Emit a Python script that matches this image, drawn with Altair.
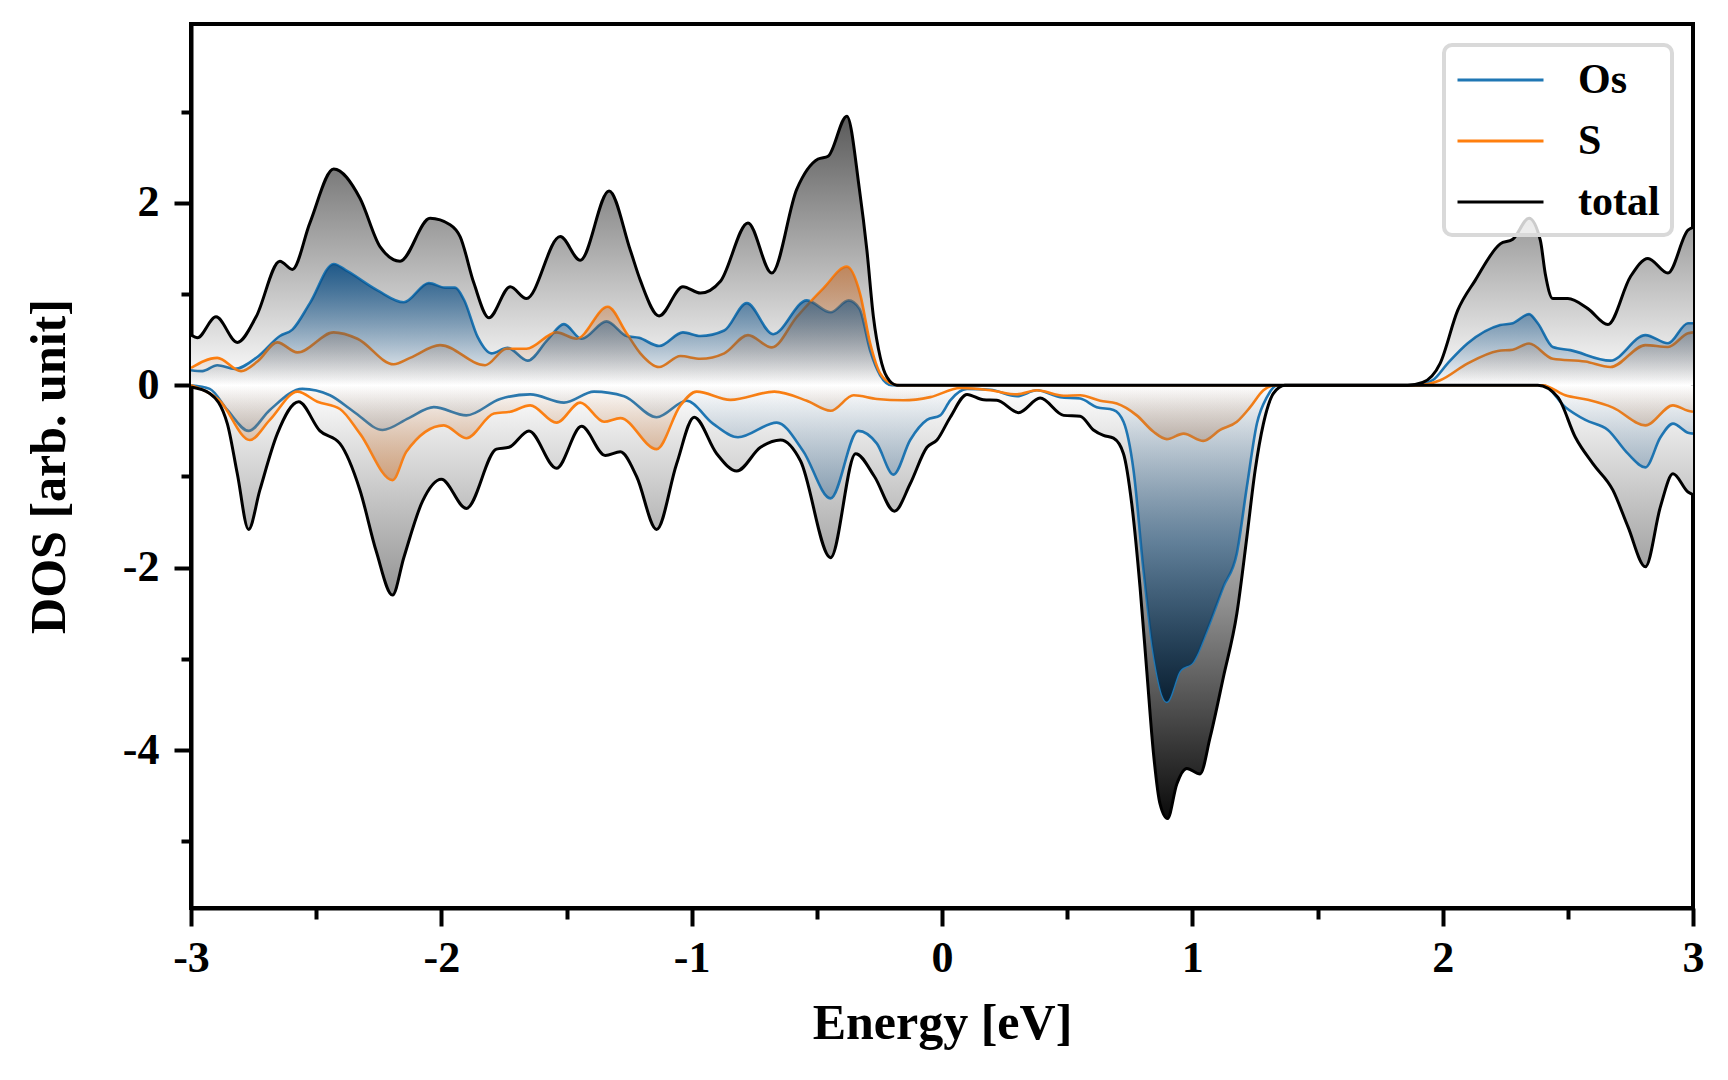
import altair as alt
import pandas as pd

# ---------------- data ----------------
total_up_E = [-3.00, -2.975, -2.90, -2.815, -2.74, -2.645, -2.595, -2.525, -2.43, -2.325, -2.245, -2.165,
              -2.045, -1.965, -1.925, -1.87, -1.81, -1.725, -1.66, -1.525, -1.445, -1.33, -1.245, -1.205,
              -1.13, -1.035, -0.965, -0.885, -0.775, -0.68, -0.58, -0.495, -0.455, -0.38, -0.33, -0.30,
              -0.274, -0.247, -0.22, -0.18, 1.86, 1.92, 1.99, 2.06, 2.13, 2.23, 2.28, 2.345, 2.39, 2.41,
              2.44, 2.50, 2.58, 2.66, 2.75, 2.82, 2.90, 2.98, 3.00]
total_up_D = [0.55, 0.52, 0.75, 0.47, 0.75, 1.36, 1.27, 1.78, 2.37, 2.05, 1.52, 1.36,
              1.83, 1.76, 1.63, 1.12, 0.74, 1.08, 0.95, 1.63, 1.37, 2.13, 1.48, 1.15,
              0.76, 1.08, 1.01, 1.14, 1.78, 1.23, 2.15, 2.48, 2.51, 2.95, 2.15, 1.48,
              0.75, 0.31, 0.09, 0.0, 0.0, 0.03, 0.24, 0.82, 1.15, 1.55, 1.60, 1.83, 1.59, 1.22,
              0.95, 0.95, 0.84, 0.665, 1.19, 1.39, 1.23, 1.70, 1.73]

os_up_E = [-3.00, -2.955, -2.895, -2.825, -2.735, -2.645, -2.595, -2.525, -2.43, -2.375, -2.255, -2.15,
           -2.05, -1.985, -1.945, -1.91, -1.855, -1.80, -1.735, -1.655, -1.575, -1.51, -1.44, -1.34,
           -1.26, -1.21, -1.13, -1.035, -0.965, -0.87, -0.78, -0.675, -0.54, -0.445, -0.373, -0.33,
           -0.287, -0.247, -0.20, 1.89, 1.96, 2.02, 2.10, 2.23, 2.28, 2.345, 2.38, 2.44, 2.51, 2.67,
           2.81, 2.90, 2.98, 3.00]
os_up_D = [0.165, 0.155, 0.22, 0.18, 0.31, 0.54, 0.61, 0.90, 1.33, 1.25, 1.04, 0.91,
           1.12, 1.07, 1.07, 0.94, 0.53, 0.35, 0.41, 0.27, 0.50, 0.67, 0.51, 0.70,
           0.54, 0.52, 0.43, 0.58, 0.54, 0.60, 0.90, 0.56, 0.93, 0.80, 0.93, 0.84,
           0.38, 0.11, 0.0, 0.0, 0.055, 0.24, 0.46, 0.66, 0.68, 0.78, 0.68, 0.42, 0.385, 0.27,
           0.55, 0.46, 0.68, 0.68]

s_up_E = [-3.00, -2.895, -2.80, -2.735, -2.655, -2.575, -2.43, -2.335, -2.19, -2.125, -2.005, -1.825,
          -1.74, -1.66, -1.54, -1.46, -1.335, -1.26, -1.205, -1.13, -1.045, -0.965, -0.87, -0.775,
          -0.68, -0.58, -0.475, -0.38, -0.327, -0.287, -0.247, -0.195, -0.17, 1.90, 1.99, 2.10,
          2.22, 2.28, 2.345, 2.44, 2.57, 2.67, 2.81, 2.90, 2.98, 3.00]
s_up_D = [0.19, 0.30, 0.155, 0.26, 0.47, 0.36, 0.58, 0.51, 0.23, 0.30, 0.44, 0.22,
          0.40, 0.40, 0.58, 0.51, 0.86, 0.57, 0.35, 0.20, 0.32, 0.29, 0.35, 0.55,
          0.415, 0.75, 1.06, 1.30, 1.00, 0.46, 0.13, 0.01, 0.0, 0.0, 0.055, 0.24,
          0.376, 0.39, 0.457, 0.29, 0.26, 0.20, 0.44, 0.42, 0.57, 0.58]

total_dn_E = [-3.00, -2.925, -2.855, -2.815, -2.77, -2.725, -2.655, -2.57, -2.485, -2.405, -2.325, -2.26,
              -2.195, -2.15, -2.075, -2.00, -1.90, -1.78, -1.73, -1.65, -1.54, -1.44, -1.345, -1.285,
              -1.22, -1.14, -1.06, -0.99, -0.90, -0.82, -0.725, -0.645, -0.565, -0.445, -0.345, -0.27,
              -0.19, -0.127, -0.06, -0.02, 0.033, 0.10, 0.166, 0.219, 0.306, 0.392, 0.486, 0.552,
              0.605, 0.645, 0.685, 0.725, 0.758, 0.791, 0.818, 0.845, 0.871, 0.901, 0.938, 0.978,
              1.031, 1.071, 1.124, 1.178, 1.218, 1.251, 1.284, 1.324, 1.37, 2.38, 2.46, 2.53,
              2.60, 2.68, 2.74, 2.81, 2.87, 2.92, 2.98, 3.00]
total_dn_D = [-0.02, -0.09, -0.42, -0.97, -1.58, -1.15, -0.53, -0.18, -0.50, -0.64, -1.15, -1.82,
              -2.30, -1.89, -1.27, -1.03, -1.35, -0.70, -0.68, -0.50, -0.91, -0.45, -0.77, -0.73,
              -1.00, -1.58, -0.86, -0.35, -0.75, -0.94, -0.68, -0.60, -0.83, -1.89, -0.75, -1.00,
              -1.38, -1.08, -0.68, -0.60, -0.35, -0.10, -0.16, -0.165, -0.30, -0.14, -0.33, -0.34,
              -0.49, -0.55, -0.58, -0.75, -1.30, -2.21, -3.13, -4.04, -4.59, -4.75, -4.37, -4.20,
              -4.26, -3.86, -3.20, -2.50, -1.66, -0.93, -0.42, -0.09, 0.0, 0.0, -0.13, -0.57,
              -0.86, -1.15, -1.55, -1.99, -1.33, -0.97, -1.17, -1.20]

os_dn_E = [-3.00, -2.925, -2.855, -2.77, -2.685, -2.555, -2.445, -2.35, -2.235, -2.13, -2.03, -1.90,
           -1.765, -1.645, -1.51, -1.39, -1.27, -1.14, -1.02, -0.915, -0.815, -0.66, -0.555, -0.445,
           -0.335, -0.26, -0.194, -0.127, -0.06, -0.007, 0.033, 0.10, 0.193, 0.30, 0.379, 0.472,
           0.552, 0.618, 0.685, 0.725, 0.765, 0.805, 0.845, 0.898, 0.951, 1.004, 1.058, 1.124,
           1.178, 1.218, 1.258, 1.298, 1.34, 2.40, 2.49, 2.57, 2.66, 2.74, 2.81, 2.87, 2.92, 2.98, 3.00]
os_dn_D = [0.0, -0.04, -0.27, -0.50, -0.27, -0.04, -0.11, -0.29, -0.49, -0.36, -0.24, -0.33,
           -0.15, -0.10, -0.19, -0.07, -0.12, -0.35, -0.17, -0.42, -0.57, -0.41, -0.72, -1.24,
           -0.50, -0.64, -0.98, -0.60, -0.38, -0.33, -0.165, -0.04, -0.05, -0.12, -0.055, -0.13,
           -0.146, -0.24, -0.27, -0.40, -0.93, -2.03, -2.94, -3.47, -3.13, -3.03, -2.69, -2.21,
           -1.84, -1.11, -0.42, -0.13, 0.0, 0.0, -0.24, -0.38, -0.49, -0.75, -0.90, -0.57, -0.42, -0.52, -0.53]

s_dn_E = [-3.00, -2.885, -2.765, -2.685, -2.575, -2.495, -2.405, -2.325, -2.195, -2.14, -1.99, -1.90,
          -1.79, -1.725, -1.645, -1.54, -1.445, -1.35, -1.285, -1.14, -1.045, -0.98, -0.845, -0.67,
          -0.54, -0.445, -0.353, -0.26, -0.154, -0.047, 0.073, 0.193, 0.30, 0.379, 0.486, 0.552,
          0.632, 0.698, 0.778, 0.845, 0.898, 0.965, 1.044, 1.111, 1.178, 1.231, 1.284, 1.33,
          2.40, 2.49, 2.58, 2.68, 2.81, 2.92, 2.98, 3.00]
s_dn_D = [0.0, -0.17, -0.60, -0.38, -0.07, -0.18, -0.26, -0.53, -1.04, -0.73, -0.44, -0.58,
          -0.31, -0.29, -0.22, -0.41, -0.19, -0.40, -0.36, -0.70, -0.22, -0.07, -0.16, -0.07,
          -0.17, -0.28, -0.11, -0.15, -0.165, -0.13, -0.03, -0.055, -0.10, -0.055, -0.115, -0.11,
          -0.17, -0.20, -0.33, -0.51, -0.59, -0.53, -0.61, -0.49, -0.40, -0.24, -0.055, 0.0,
          0.0, -0.11, -0.16, -0.245, -0.44, -0.22, -0.28, -0.29]

series_names = ["Os", "S", "total"]
series_colors = ["#1f77b4", "#ff7f0e", "#000000"]
x_major_ticks = [-3, -2, -1, 0, 1, 2, 3]
x_minor_ticks = [-2.5, -1.5, -0.5, 0.5, 1.5, 2.5]
y_major_ticks = [-4, -2, 0, 2]
y_minor_ticks = [-5, -3, -1, 1, 3]


def frame(E, D, series, spin):
    return pd.DataFrame({"E": E, "D": D, "series": series, "spin": spin})


tot_up = frame(total_up_E, total_up_D, "total", "up")
tot_dn = frame(total_dn_E, total_dn_D, "total", "down")
os_up = frame(os_up_E, os_up_D, "Os", "up")
os_dn = frame(os_dn_E, os_dn_D, "Os", "down")
s_up = frame(s_up_E, s_up_D, "S", "up")
s_dn = frame(s_dn_E, s_dn_D, "S", "down")
partial_lines = pd.concat([os_up, os_dn, s_up, s_dn], ignore_index=True)
total_lines = pd.concat([tot_up, tot_dn], ignore_index=True)

# ---------------- style ----------------
W, H = 1502, 884
FONT = "Liberation Serif"
xscale = alt.Scale(domain=[-3, 3], nice=False, zero=False)
yscale = alt.Scale(domain=[-5.73, 3.96], nice=False, zero=False)
cscale = alt.Scale(domain=series_names, range=series_colors)

x_major = alt.Axis(values=x_major_ticks, labelExpr="'' + datum.value", tickSize=18,
                   labelFlush=False, labelOverlap=False,
                   orient="bottom", title="Energy [eV]", labelPadding=10, titlePadding=18)
x_minor = alt.Axis(values=x_minor_ticks, labels=False, tickSize=11, domain=False,
                   orient="bottom", title=None)
y_major = alt.Axis(values=y_major_ticks, labelExpr="'' + datum.value", tickSize=17,
                   labelFlush=False, labelOverlap=False,
                   orient="left", title="DOS [arb. unit]", labelPadding=15, titlePadding=48)
y_minor = alt.Axis(values=y_minor_ticks, labels=False, tickSize=10, domain=False,
                   orient="left", title=None)


def grad(stops, up):
    return alt.Gradient(
        gradient="linear",
        stops=[alt.GradientStop(color=c, offset=o) for o, c in stops],
        x1=0, x2=0,
        y1=1 if up else 0,
        y2=0 if up else 1,
    )


def area(df, stops, up, xa=None, ya=None):
    return alt.Chart(df).mark_area(
        interpolate="monotone", clip=True, color=grad(stops, up)
    ).encode(
        x=alt.X("E:Q", scale=xscale, axis=xa),
        y=alt.Y("D:Q", scale=yscale, axis=ya),
        y2=alt.datum(0),
    )


legend = alt.Legend(title=None)

lines_partial = alt.Chart(partial_lines).mark_line(
    interpolate="monotone", clip=True, strokeWidth=2.6
).encode(
    x=alt.X("E:Q", scale=xscale, axis=None),
    y=alt.Y("D:Q", scale=yscale, axis=None),
    color=alt.Color("series:N", scale=cscale, legend=legend),
    detail="spin:N",
)

lines_total = alt.Chart(total_lines).mark_line(
    interpolate="monotone", clip=True, strokeWidth=3
).encode(
    x=alt.X("E:Q", scale=xscale, axis=None),
    y=alt.Y("D:Q", scale=yscale, axis=None),
    color=alt.Color("series:N", scale=cscale, legend=legend),
    detail="spin:N",
)

layers = [
    area(tot_up, [(0, "#ffffff"), (1, "#5a5a5a")], True, xa=x_major, ya=y_major),
    area(tot_dn, [(0, "#ffffff"), (0.5, "#909090"), (1, "#0a0a0a")], False, xa=x_minor, ya=y_minor),
    lines_partial,
    area(s_up, [(0, "rgba(196,106,40,0)"), (1, "rgba(196,106,40,0.62)")], True),
    area(s_dn, [(0, "rgba(208,133,74,0)"), (1, "rgba(208,133,74,0.62)")], False),
    area(os_up, [(0, "rgba(10,80,140,0)"), (1, "rgba(6,74,130,0.85)")], True),
    area(os_dn, [(0, "rgba(31,100,160,0)"), (0.5, "rgba(20,80,130,0.5)"), (1, "rgba(2,25,45,0.88)")], False),
    lines_total,
]

chart = alt.layer(*layers).resolve_axis(
    x="independent", y="independent"
).properties(
    width=W, height=H,
    background="white",
    autosize=alt.AutoSizeParams(type="none"),
    padding={"left": 183, "top": 16, "right": 27, "bottom": 150},
).configure_view(
    stroke="black", strokeWidth=4
).configure_axis(
    labelFont=FONT, labelFontSize=44, labelFontWeight="bold", labelColor="black",
    titleFont=FONT, titleFontSize=50, titleFontWeight="bold", titleColor="black",
    tickColor="black", tickWidth=4, domainColor="black", domainWidth=4,
    grid=False, zindex=1,
).configure_legend(
    orient="top-right", offset=21, padding=12,
    fillColor="rgba(255,255,255,0.8)", strokeColor="#d9d9d9", strokeWidth=4, cornerRadius=8,
    symbolType="M-1,0H3", symbolSize=1849, symbolStrokeWidth=3,
    labelFont=FONT, labelFontSize=42, labelFontWeight="bold", labelColor="black",
    labelOffset=76, rowPadding=17, labelLimit=0,
)

chart.save("out.html", embed_options={"renderer": "svg", "actions": False})
